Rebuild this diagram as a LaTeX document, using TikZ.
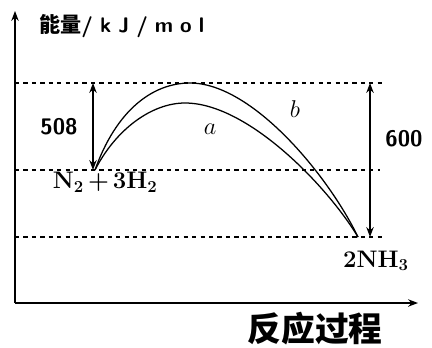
\documentclass[tikz,border=0pt]{standalone}
\usepackage{fontspec}
\newfontfamily\cjk{Noto Sans CJK SC}
\usepackage{tikz}
\usetikzlibrary{arrows.meta}
\newcommand{\gap}{\hspace{5pt}}

\begin{document}
\begin{tikzpicture}[>=Stealth,line width=0.9pt]
\useasboundingbox (0,0) rectangle (10.8,8.675);
% axes
\coordinate (O) at (0.375,1.1);
\coordinate (ytop) at (0.375,8.4);
\coordinate (xend) at (10.45,1.1);
\draw[->](O)--(ytop);
\draw[->](O)--(xend);
\node[anchor=west] (ylab) at (0.85,8.03) {\fontsize{15}{15}\selectfont\cjk\bfseries 能量\sffamily\bfseries/\gap k\gap J\gap/\gap m\gap o\gap l};
\node (xlab) at (7.875,0.45) {\cjk\fontsize{24}{24}\selectfont\bfseries 反应过程};
% levels
\coordinate (t0) at (0.375,6.6);   \coordinate (t1) at (9.55,6.6);
\coordinate (m0) at (0.375,4.425); \coordinate (m1) at (9.5,4.425);
\coordinate (b0) at (0.375,2.75);  \coordinate (b1) at (9.55,2.75);
\draw[dashed,line width=0.8pt](t0)--(t1);
\draw[dashed,line width=0.8pt](m0)--(m1);
\draw[dashed,line width=0.8pt](b0)--(b1);
% energy gaps
\coordinate (p) at (2.325,6.6);  \coordinate (q) at (2.325,4.425);
\coordinate (r) at (9.25,6.6);   \coordinate (s) at (9.25,2.75);
\draw[<->](p)--(q);
\draw[<->](r)--(s);
\node (e508) at (1.475,5.5) {\sffamily\bfseries\fontsize{16}{16}\selectfont 508};
\node (e600) at (10.1,5.2) {\sffamily\bfseries\fontsize{16}{16}\selectfont 600};
% curves
\coordinate (A) at (2.375,4.425);
\coordinate (B) at (8.95,2.75);
\coordinate (Pb) at (4.75,6.6);
\coordinate (Pa) at (4.625,6.1);
\draw (A) .. controls (2.9,5.9) and (3.8,6.6) .. (Pb)
          .. controls (6.3,6.6) and (8.2,4.3) .. (B);
\draw (A) .. controls (2.9,5.45) and (3.8,6.1) .. (Pa)
          .. controls (6.2,6.1) and (8.2,4.0) .. (B);
\node (la) at (5.25,5.45) {\LARGE$a$};
\node (lb) at (7.375,5.95) {\LARGE$b$};
\node (N2) at (2.63,4.12) {\fontsize{17}{17}\selectfont\bfseries N\textsubscript{2}\,+\,3H\textsubscript{2}};
\node (NH3) at (9.4,2.15) {\fontsize{17}{17}\selectfont\bfseries 2NH\textsubscript{3}};
\end{tikzpicture}
\end{document}
